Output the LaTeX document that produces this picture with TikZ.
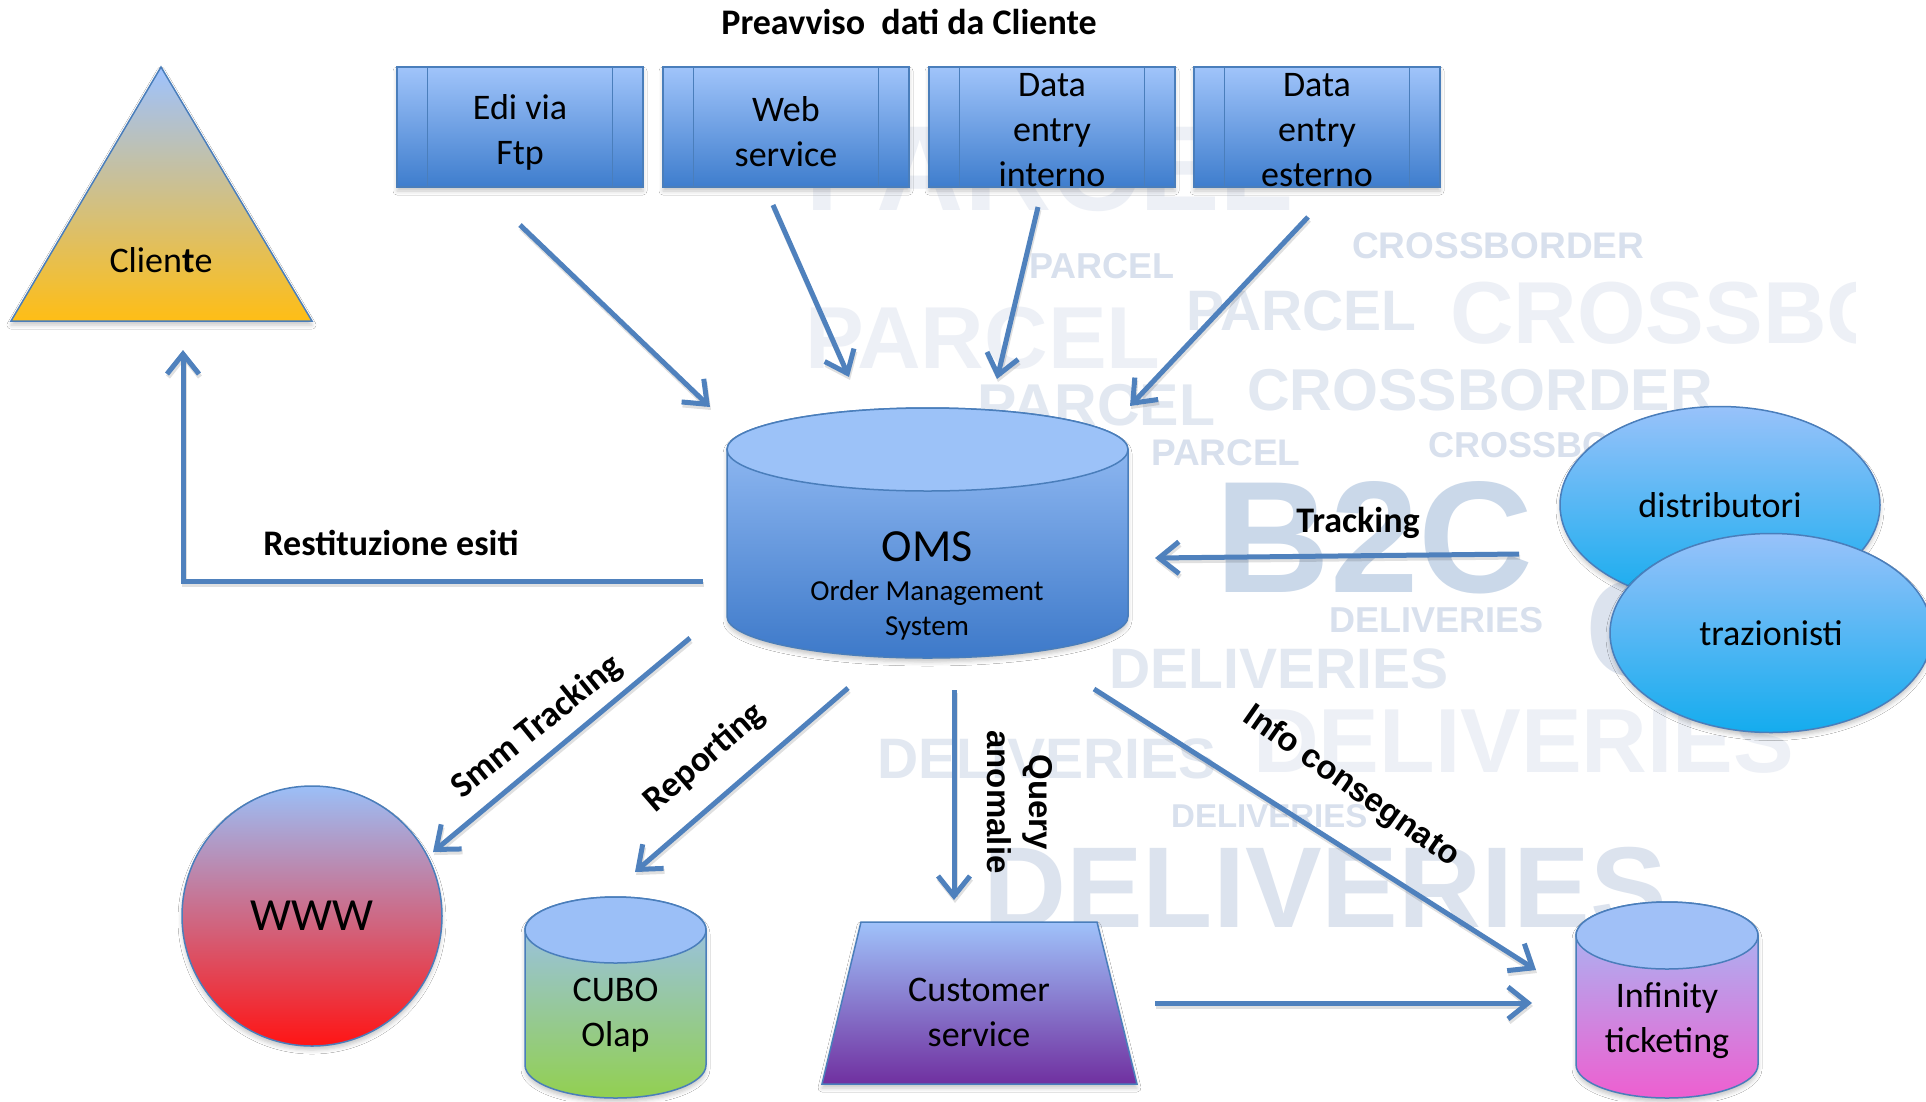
\documentclass[tikz,border=0pt]{standalone}
\usepackage{fontspec}
\setmainfont{Carlito}
\newfontfamily\arialf{Liberation Sans}
\usetikzlibrary{arrows.meta,calc,shapes.geometric,shadows.blur}
\definecolor{arrowblue}{HTML}{4F81BD}
\definecolor{edge}{HTML}{4A7EBB}
\definecolor{boxtop}{HTML}{A0C4FA}
\definecolor{boxbot}{HTML}{3E7DCD}
\definecolor{omstop}{HTML}{9CC2F8}
\definecolor{omsbot}{HTML}{3D79C9}
\definecolor{tritop}{HTML}{9EC2FF}
\definecolor{trimid}{HTML}{CEC3CC}
\definecolor{tribot}{HTML}{FFBE15}
\definecolor{elltop}{HTML}{98C2FA}
\definecolor{ellbot}{HTML}{14ACEE}
\definecolor{wwwtop}{HTML}{9BBFF7}
\definecolor{wwwmid}{HTML}{D58DB8}
\definecolor{wwwbot}{HTML}{FF1414}
\definecolor{cubotop}{HTML}{9BBFF7}
\definecolor{cubobot}{HTML}{92D050}
\definecolor{custop}{HTML}{9FC2FA}
\definecolor{cusbot}{HTML}{7030A0}
\definecolor{inftop}{HTML}{A0C0F7}
\definecolor{infbot}{HTML}{EE5FD0}
\definecolor{wmA}{HTML}{D8E0ED}
\definecolor{wmB}{HTML}{E2E8F1}
\definecolor{wmC}{HTML}{EDF0F6}
\definecolor{wmD}{HTML}{CAD8E9}
\definecolor{wmE}{HTML}{DCE3EE}

\tikzset{
  shadowed/.style={blur shadow={shadow xshift=0pt, shadow yshift=-4pt, shadow blur radius=4pt, shadow opacity=22}},
  flow/.style={line width=5pt, draw=arrowblue, -{Straight Barb[length=20pt,width=32pt]},
    preaction={draw=black, draw opacity=.12, line width=5pt, transform canvas={shift={(1pt,-3pt)}}}},
  topbox/.style={rectangle, draw=edge, line width=1.5pt, top color=boxtop, bottom color=boxbot,
    minimum width=246pt, minimum height=120pt, inner sep=0pt, shadowed},
  boxline/.style={draw=edge, line width=1.2pt},
  txt/.style={font=\fontsize{36}{45}\selectfont, align=center, inner sep=0pt},
  lbl/.style={font=\bfseries\fontsize{36}{44}\selectfont, align=center, inner sep=0pt},
  albl/.style={font=\arialf\bfseries\fontsize{33}{42}\selectfont, align=center, inner sep=0pt},
  wm/.style={anchor=base west, inner sep=0pt},
  cylbody/.style={draw=edge, line width=1.5pt, shadowed},
  cylborder/.style={draw=edge, line width=1.5pt},
  ell/.style={ellipse, draw=edge, line width=1.5pt, top color=elltop, bottom color=ellbot,
    minimum width=320pt, minimum height=197pt, inner sep=0pt, shadowed,
    font=\fontsize{36}{45}\selectfont}
}
\newcommand\wmf[1]{\arialf\bfseries\fontsize{#1}{#1}\selectfont}
\newcommand\mycyl[7]{%
  \path[cylbody, top color=#6, bottom color=#7]
    ({#1},{#3+#5}) -- ({#1},{#4-#5})
    arc[start angle=180, end angle=0, x radius={(#2-#1)/2}, y radius={#5}]
    -- ({#2},{#3+#5})
    arc[start angle=0, end angle=-180, x radius={(#2-#1)/2}, y radius={#5}]
    -- cycle;
  \draw[cylborder, fill=#6] ({(#1+#2)/2},{#3+#5}) ellipse[x radius={(#2-#1)/2}, y radius={#5}];
}

\begin{document}
\begin{tikzpicture}[x=1pt,y=-1pt]
\useasboundingbox (0,0) rectangle (1926,1101);
\clip (0,0) rectangle (1926,1101);
\fill[white] (0,0) rectangle (1926,1101);

% ---- watermark words
\begin{scope}
\clip (795,95) rectangle (1855,950);
\node[wm, text=wmC, font=\wmf{121}] (w1) at (805,210) {PARCEL};
\node[wm, text=wmA, font=\wmf{36}] (w2) at (1029,278) {PARCEL};
\node[wm, text=wmC, font=\wmf{88}] (w3) at (805,368) {PARCEL};
\node[wm, text=wmB, font=\wmf{57}] (w4) at (1186,330) {PARCEL};
\node[wm, text=wmB, font=\wmf{59}] (w5) at (977,425) {PARCEL};
\node[wm, text=wmA, font=\wmf{37}] (w6) at (1151,465) {PARCEL};
\node[wm, text=wmA, font=\wmf{37}] (w7) at (1352,258) {CROSSBORDER};
\node[wm, text=wmC, font=\wmf{88}] (w8) at (1450,343) {CROSSBORDER};
\node[wm, text=wmB, font=\wmf{59}] (w9) at (1247,410) {CROSSBORDER};
\node[wm, text=wmA, font=\wmf{36}] (w10) at (1428,457) {CROSSBORDER};
\node[wm, text=wmD, font=\wmf{159}] (w11) at (1215,592) {B2C};
\node[wm, text=wmE, font=\wmf{138}] (w12) at (1585,676) {C};
\node[wm, text=wmA, font=\wmf{36}] (w13) at (1329,632) {DELIVERIES};
\node[wm, text=wmB, font=\wmf{57}] (w14) at (1109,688) {DELIVERIES};
\node[wm, text=wmC, font=\wmf{91}] (w15) at (1253,772) {DELIVERIES};
\node[wm, text=wmB, font=\wmf{57}] (w16) at (877,778) {DELIVERIES};
\node[wm, text=wmA, font=\wmf{33}] (w17) at (1171,827) {DELIVERIES};
\node[wm, text=wmE, font=\wmf{115}] (w18) at (983,927) {DELIVERIES};
\end{scope}

% ---- title
\node[lbl] (title) at (909,22) {Preavviso\ \ dati da Cliente};

% ---- top boxes
\node[topbox] (edi) at (520,127) {};
\node[topbox] (web) at (786,127) {};
\node[topbox] (dint) at (1052,127) {};
\node[topbox] (dext) at (1317,127) {};
\foreach \n in {edi,web,dint,dext}{
  \draw[boxline] ($(\n.north west)+(31,0)$) -- ($(\n.south west)+(31,0)$);
  \draw[boxline] ($(\n.north east)+(-31,0)$) -- ($(\n.south east)+(-31,0)$);
}
\node[txt] (editxt) at ([yshift=-5pt]edi.center) {Edi via\\Ftp};
\node[txt] (webtxt) at ([yshift=-5pt]web.center) {Web\\service};
\node[txt] (dinttxt) at ([yshift=-3pt]dint.center) {Data\\entry\\interno};
\node[txt] (dexttxt) at ([yshift=-3pt]dext.center) {Data\\entry\\esterno};

% ---- Cliente triangle
\path[shadowed, draw=edge, line width=1.5pt, top color=tritop, middle color=trimid, bottom color=tribot]
  (161,67) -- (312,321) -- (11,321) -- cycle;
\node[txt] (cliente) at (161,260) {Clien\textbf{t}e};

% ---- OMS
\mycyl{727}{1128}{408}{658}{41.5}{omstop}{omsbot}
\node[txt, font=\fontsize{46}{50}\selectfont] (oms) at (927,547) {OMS};
\node[txt, font=\fontsize{29}{35}\selectfont] (omssub) at (927,610) {Order Management\\System};

% ---- distributori / trazionisti
\node[ell] (distr) at (1720,505) {distributori};
\node[ell, minimum width=322pt, minimum height=199pt] (traz) at (1771,633) {trazionisti};

% ---- WWW
\node[circle, draw=edge, line width=1.5pt, top color=wwwtop, middle color=wwwmid, bottom color=wwwbot,
  minimum size=260pt, inner sep=0pt, shadowed, font=\fontsize{46}{50}\selectfont] (www) at (312,916) {WWW};

% ---- CUBO Olap
\mycyl{525}{706}{897}{1098}{33}{cubotop}{cubobot}
\node[txt] (cubo) at (615.5,1015) {CUBO\\Olap};

% ---- Customer service
\path[shadowed, draw=edge, line width=1.5pt, top color=custop, bottom color=cusbot]
  (861,922) -- (1097,922) -- (1137,1084) -- (822,1084) -- cycle;
\node[txt] (cust) at (979,1012) {Customer\\service};

% ---- Infinity ticketing
\mycyl{1576}{1758}{902}{1098}{33.5}{inftop}{infbot}
\node[txt] (inf) at (1667,1021) {Infinity\\ticketing};

% ---- connector end points
\coordinate (a1s) at (520,225);  \coordinate (a1e) at (710,407);
\coordinate (a2s) at (773,205);  \coordinate (a2e) at (849,377);
\coordinate (a3s) at (1038,207); \coordinate (a3e) at (997,379);
\coordinate (a4s) at (1308,217); \coordinate (a4e) at (1130,406);
\coordinate (a5s) at (1519,554); \coordinate (a5e) at (1155,558);
\coordinate (a6s) at (703,581);  \coordinate (a6e) at (183,350);
\coordinate (a7s) at (690,638);  \coordinate (a7e) at (433,852);
\coordinate (a8s) at (848,688);  \coordinate (a8e) at (635,872);
\coordinate (a9s) at (954,690);  \coordinate (a9e) at (954,900);
\coordinate (a10s) at (1094,689); \coordinate (a10e) at (1536,970);
\coordinate (a11s) at (1155,1003); \coordinate (a11e) at (1532,1003);

\draw[flow] (a1s) -- (a1e);
\draw[flow] (a2s) -- (a2e);
\draw[flow] (a3s) -- (a3e);
\draw[flow] (a4s) -- (a4e);
\draw[flow] (a5s) -- (a5e);
\draw[flow] (a6s) -| (a6e);
\draw[flow] (a7s) -- (a7e);
\draw[flow] (a8s) -- (a8e);
\draw[flow] (a9s) -- (a9e);
\draw[flow] (a10s) -- (a10e);
\draw[flow] (a11s) -- (a11e);

% ---- labels
\node[lbl] (ltrack) at (1358,523) {Tracking};
\node[lbl] (lrest) at (391,543) {Restituzione esiti};
\node[lbl, rotate=39] (lsmm) at (537,727) {Smm Tracking};
\node[lbl, rotate=41] (lrep) at (705,758) {Reporting};
\node[albl, rotate=-90] (lquery) at (1020,802) {Query\\anomalie};
\node[albl, rotate=-35] (linfo) at (1351,787) {Info consegnato};
\end{tikzpicture}
\end{document}
